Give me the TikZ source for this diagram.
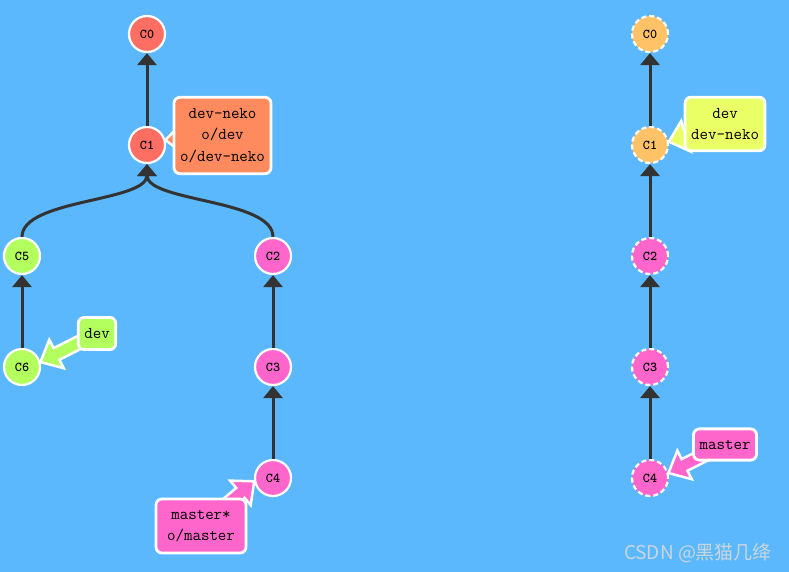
\documentclass[tikz,border=0pt]{standalone}
\usepackage{fontspec}
\newfontfamily\cjkfont{Noto Sans CJK SC}
\usetikzlibrary{arrows.meta,calc}

\definecolor{sky}{HTML}{5CB8FC}
\definecolor{edgegray}{HTML}{333333}
\definecolor{redc}{HTML}{FF6E63}
\definecolor{salmon}{HTML}{FF8A5E}
\definecolor{lime}{HTML}{B2FF5E}
\definecolor{pinkc}{HTML}{FF66CC}
\definecolor{peach}{HTML}{FFC266}
\definecolor{lemon}{HTML}{EAFF66}
\definecolor{mark}{HTML}{C9D6E0}

\pgfdeclarelayer{mid}
\pgfdeclarelayer{front}
\pgfsetlayers{main,mid,front}

% fat branch pointer: from box (#1) to commit border (#2)
\newcommand{\branchptr}[3]{%
  \path (#1) coordinate (ps) (#2) coordinate (pt);
  \coordinate (ph) at ($(pt)!18pt!(ps)$);
  \filldraw[fill=#3, draw=white, line width=2.5pt, line join=miter]
    ($(ps)!6.5pt!90:(pt)$) -- ($(ph)!6.5pt!-90:(ps)$) -- ($(ph)!16pt!-90:(ps)$)
    -- (pt) -- ($(ph)!16pt!90:(ps)$) -- ($(ph)!6.5pt!90:(ps)$)
    -- ($(ps)!6.5pt!-90:(pt)$) -- cycle;
}

\begin{document}
\begin{tikzpicture}[x=1pt,y=-1pt,
    commit/.style={circle, draw=white, line width=2.2pt, minimum size=36pt, inner sep=0pt,
      font=\ttfamily\bfseries\fontsize{13.5}{14}\selectfont},
    ghost/.style={commit, dash pattern=on 5pt off 3pt},
    branchbox/.style={draw=white, line width=2.8pt, rounded corners=6pt, align=center,
      inner xsep=6pt, inner ysep=11pt, font=\ttfamily\fontsize{16.5}{21.5}\selectfont},
    parent/.style={draw=edgegray, line width=3pt, -{Triangle[width=19pt,length=12pt]}}]

    % Background and frame
    \fill[sky] (0,0) rectangle (789,572);
    \useasboundingbox (0,0) rectangle (789,572);

    % Left: commits
    \node[commit, fill=redc] (l0) at (147,34) {C0};
    \node[commit, fill=redc] (l1) at (147,145) {C1};
    \node[commit, fill=lime] (l5) at (22,256) {C5};
    \node[commit, fill=lime] (l6) at (22,367) {C6};
    \node[commit, fill=pinkc] (l2) at (273,256) {C2};
    \node[commit, fill=pinkc] (l3) at (273,367) {C3};
    \node[commit, fill=pinkc] (l4) at (273,478) {C4};

    % Left: parent links
    \draw[parent] (l1) -- (l0);
    \draw[parent] (l5.north) .. controls +(0,-38) and +(0,38) .. (l1.south);
    \draw[parent] (l2.north) .. controls +(0,-38) and +(0,38) .. (l1.south);
    \draw[parent] (l6) -- (l5);
    \draw[parent] (l3) -- (l2);
    \draw[parent] (l4) -- (l3);

    % Right: commits
    \node[ghost, fill=peach] (r0) at (650,34) {C0};
    \node[ghost, fill=peach] (r1) at (650,145) {C1};
    \node[ghost, fill=pinkc] (r2) at (650,256) {C2};
    \node[ghost, fill=pinkc] (r3) at (650,367) {C3};
    \node[ghost, fill=pinkc] (r4) at (650,478) {C4};

    % Right: parent links
    \draw[parent] (r1) -- (r0);
    \draw[parent] (r2) -- (r1);
    \draw[parent] (r3) -- (r2);
    \draw[parent] (r4) -- (r3);

    % Branch labels
    \begin{pgfonlayer}{front}
    \node[branchbox, fill=salmon] (bdevneko) at (222.5,135.5) {dev-neko\\o/dev\\o/dev-neko};
    \node[branchbox, fill=lime] (bdev) at (97,333.5) {dev};
    \node[branchbox, fill=pinkc, minimum width=90pt] (bmaster) at (201,526) {master*\\o/master};
    \node[branchbox, fill=lemon] (rdev) at (725,124) {dev\\dev-neko};
    \node[branchbox, fill=pinkc] (rmaster) at (725,444.5) {master};
    \end{pgfonlayer}

    % Branch pointers
    \begin{pgfonlayer}{mid}
    \branchptr{bdevneko.center}{l1.15}{salmon}
    \branchptr{bdev.center}{l6.15}{lime}
    \branchptr{bmaster.center}{l4.190}{pinkc}
    \branchptr{rdev.center}{r1.10}{lemon}
    \branchptr{rmaster.center}{r4.15}{pinkc}
    \end{pgfonlayer}

    % Watermark
    \node[text=mark, font=\cjkfont\fontsize{19}{19}\selectfont] (wm) at (698,553) {CSDN @黑猫几绛};
\end{tikzpicture}
\end{document}
